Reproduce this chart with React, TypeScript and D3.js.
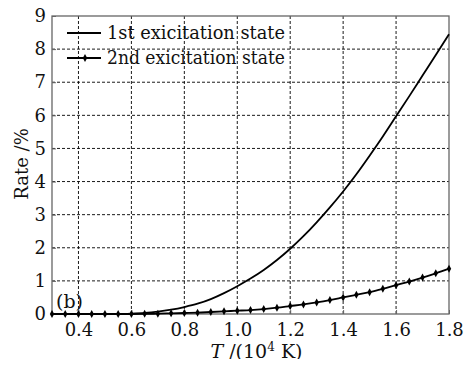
import React, { useEffect, useRef } from 'react';
import * as d3 from 'd3';

// temperature in 10^4 K, step 0.05
const temps = [0.3, 0.35, 0.4, 0.45, 0.5, 0.55, 0.6, 0.65, 0.7, 0.75, 0.8, 0.85, 0.9, 0.95, 1.0,
  1.05, 1.1, 1.15, 1.2, 1.25, 1.3, 1.35, 1.4, 1.45, 1.5, 1.55, 1.6, 1.65, 1.7, 1.75, 1.8];
const firstState = [0, 0, 0, 0, 0, 0, 0.01, 0.03, 0.07, 0.13, 0.21, 0.31, 0.45, 0.63, 0.84,
  1.07, 1.33, 1.63, 1.97, 2.35, 2.77, 3.22, 3.7, 4.22, 4.78, 5.36, 5.97, 6.58, 7.2, 7.82, 8.45];
const secondState = [0, 0, 0, 0, 0, 0, 0, 0.005, 0.01, 0.02, 0.03, 0.04, 0.06, 0.08, 0.1,
  0.12, 0.15, 0.19, 0.24, 0.29, 0.35, 0.42, 0.5, 0.58, 0.66, 0.76, 0.87, 0.98, 1.1, 1.23, 1.37];
const xTicks = [0.4, 0.6, 0.8, 1.0, 1.2, 1.4, 1.6, 1.8];
const yTicks = [0, 1, 2, 3, 4, 5, 6, 7, 8, 9];
const seriesNames = ['1st exicitation state', '2nd exicitation state'];

const width = 473;
const height = 367;
const font = 'DejaVu Serif';

const Chart = () => {
  const ref = useRef(null);

  useEffect(() => {
    const svg = d3.select(ref.current);
    svg.selectAll('*').remove();

    const margin = { top: 16, right: 24, bottom: 53, left: 52 };
    const innerW = width - margin.left - margin.right;
    const innerH = height - margin.top - margin.bottom;

    const x = d3.scaleLinear().domain([0.3, 1.8]).range([0, innerW]);
    const y = d3.scaleLinear().domain([0, 9]).range([innerH, 0]);

    const g = svg.append('g').attr('transform', `translate(${margin.left},${margin.top})`);

    // grid
    g.append('g').selectAll('line')
      .data(xTicks.slice(0, -1))
      .enter().append('line')
      .attr('x1', d => x(d)).attr('x2', d => x(d))
      .attr('y1', 0).attr('y2', innerH)
      .attr('stroke', '#000').attr('stroke-width', 0.9).attr('stroke-dasharray', '3,2');
    g.append('g').selectAll('line')
      .data(yTicks.slice(1, -1))
      .enter().append('line')
      .attr('x1', 0).attr('x2', innerW)
      .attr('y1', d => y(d)).attr('y2', d => y(d))
      .attr('stroke', '#000').attr('stroke-width', 0.9).attr('stroke-dasharray', '3,2');

    // frame
    g.append('rect')
      .attr('width', innerW).attr('height', innerH)
      .attr('fill', 'none').attr('stroke', '#666').attr('stroke-width', 1.3);

    // axes
    const xAxis = g.append('g')
      .attr('transform', `translate(0,${innerH})`)
      .call(d3.axisBottom(x).tickValues(xTicks).tickFormat(d3.format('.1f')).tickSizeInner(-4).tickSizeOuter(0).tickPadding(9));
    const yAxis = g.append('g')
      .call(d3.axisLeft(y).tickValues(yTicks).tickFormat(d3.format('d')).tickSizeInner(-4).tickSizeOuter(0).tickPadding(6));
    [xAxis, yAxis].forEach(a => {
      a.attr('font-family', font).attr('font-size', 18);
      a.select('.domain').remove();
      a.selectAll('line').attr('stroke', '#666');
      a.selectAll('text').attr('fill', '#111');
    });

    const lineGen = d3.line<number>()
      .x((_, i) => x(temps[i]))
      .curve(d3.curveMonotoneX);

    g.append('path')
      .datum(firstState)
      .attr('d', lineGen.y(d => y(d)))
      .attr('fill', 'none').attr('stroke', '#000').attr('stroke-width', 1.8);

    g.append('path')
      .datum(secondState)
      .attr('d', lineGen.y(d => y(d)))
      .attr('fill', 'none').attr('stroke', '#000').attr('stroke-width', 1.8);

    const diamond = 'M0,-4L2.2,0L0,4L-2.2,0Z';
    g.append('g').selectAll('path')
      .data(secondState)
      .enter().append('path')
      .attr('d', diamond)
      .attr('transform', (d, i) => `translate(${x(temps[i])},${y(d)})`)
      .attr('fill', '#000');

    // legend
    const legend = g.append('g').attr('transform', 'translate(15,17)');
    seriesNames.forEach((name, i) => {
      const row = legend.append('g').attr('transform', `translate(0,${i * 25})`);
      row.append('line').attr('x1', 0).attr('x2', 34).attr('y1', 0).attr('y2', 0)
        .attr('stroke', '#000').attr('stroke-width', 1.8);
      if (i === 1) row.append('path').attr('d', diamond).attr('transform', 'translate(18,0)').attr('fill', '#000');
      row.append('text').attr('x', 40).attr('y', 6)
        .attr('font-family', font).attr('font-size', 18).attr('fill', '#111')
        .attr('textLength', 178).attr('lengthAdjust', 'spacingAndGlyphs')
        .text(name);
    });

    g.append('text').attr('x', 4).attr('y', innerH - 6)
      .attr('font-family', font).attr('font-size', 19).attr('fill', '#111')
      .text('(b)');

    // axis titles
    const xt = svg.append('text')
      .attr('x', margin.left + innerW / 2 + 6).attr('y', height - 9)
      .attr('text-anchor', 'middle')
      .attr('font-family', font).attr('font-size', 19).attr('fill', '#111');
    xt.append('tspan').attr('font-style', 'italic').text('T');
    xt.append('tspan').text(' /(10');
    xt.append('tspan').attr('font-size', 12).attr('dy', -7).text('4');
    xt.append('tspan').attr('dy', 7).text(' K)');

    svg.append('text')
      .attr('transform', `translate(28,${margin.top + 148}) rotate(-90)`)
      .attr('text-anchor', 'middle')
      .attr('font-family', font).attr('font-size', 18).attr('fill', '#111')
      .text('Rate /%');
  }, []);

  return <svg ref={ref} width={width} height={height} style={{ display: 'block' }}></svg>;
};

export default function App() {
  return (
    <div style={{ margin: -8 }}>
      <Chart />
    </div>
  );
}
